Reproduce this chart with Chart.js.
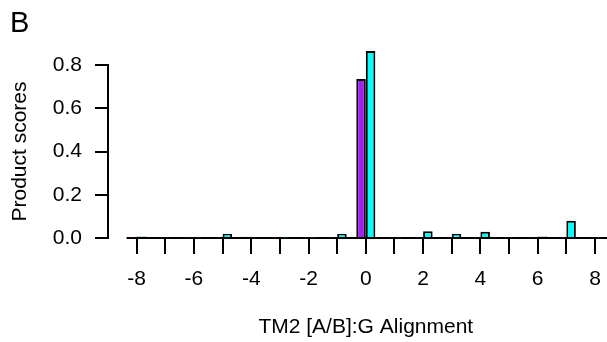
<!DOCTYPE html>
<html>
<head>
<meta charset="utf-8">
<script src="https://cdn.jsdelivr.net/npm/chart.js@4/dist/chart.umd.min.js"></script>
<style>
  body { margin: 0; background: #fff; }
  #wrap { position: relative; width: 607px; height: 342px; }
</style>
</head>
<body>
<div id="wrap"><canvas id="chart" width="607" height="342"></canvas></div>
<script>
// alignment offsets along TM2
const offsets = [-8, -7, -6, -5, -4, -3, -2, -1, 0, 1, 2, 3, 4, 5, 6, 7, 8];
// product scores per offset, one list per series
const scoresAG = [0.002, 0.003, 0.002, 0.002, 0.006, 0.002, 0.002, 0.002, 0.735, 0.002, 0.002, 0.002, 0.002, 0.002, 0.002, 0.002, 0.002];
const scoresBG = [0.007, 0.003, 0.002, 0.018, 0.005, 0.002, 0.002, 0.019, 0.865, 0.002, 0.031, 0.018, 0.029, 0.003, 0.007, 0.08, 0.002];
const yTicks = [0, 0.2, 0.4, 0.6, 0.8];
const xTitle = 'TM2 [A/B]:G Alignment';

const FONT = "'Liberation Sans', Arial, Helvetica, sans-serif";
Chart.defaults.color = '#000';
Chart.defaults.font.family = FONT;
Chart.defaults.font.size = 21;

const toPoints = vals => offsets.map((x, i) => ({ x: x, y: vals[i] }));

// panel letter, x title centred on 0, and the bar baseline (only under the bars)
const extras = {
  id: 'extras',
  beforeDatasetsDraw(chart) {
    const { ctx, scales: { x, y }, chartArea } = chart;
    ctx.save();
    ctx.strokeStyle = '#000';
    ctx.lineWidth = 2;
    ctx.beginPath();
    ctx.moveTo(x.getPixelForValue(-8.35), y.getPixelForValue(0));
    ctx.lineTo(chartArea.right, y.getPixelForValue(0));
    ctx.stroke();
    ctx.restore();
  },
  afterDraw(chart) {
    const { ctx, scales: { x } } = chart;
    ctx.save();
    ctx.fillStyle = '#000';
    ctx.font = '29px ' + FONT;
    ctx.textBaseline = 'alphabetic';
    ctx.fillText('B', 10, 32);
    ctx.font = '21px ' + FONT;
    ctx.textAlign = 'center';
    ctx.textBaseline = 'middle';
    ctx.fillText(xTitle, x.getPixelForValue(0), 327);
    ctx.restore();
  }
};

new Chart(document.getElementById('chart'), {
  type: 'bar',
  data: {
    datasets: [{
      label: 'TM2 A:G',
      data: toPoints(scoresAG),
      backgroundColor: '#a020f0',
      borderColor: '#000',
      borderWidth: 2,
      clip: false
    }, {
      label: 'TM2 B:G',
      data: toPoints(scoresBG),
      backgroundColor: '#00ffff',
      borderColor: '#000',
      borderWidth: 2,
      clip: false
    }]
  },
  options: {
    responsive: false,
    animation: false,
    layout: { padding: { top: 65, left: 0, right: 0, bottom: 0 } },
    datasets: { bar: { categoryPercentage: 2 / 3, barPercentage: 1 } },
    plugins: { legend: { display: false }, tooltip: { enabled: false } },
    scales: {
      x: {
        type: 'linear',
        offset: false,
        min: -9.0,
        max: 8.42,
        afterFit: s => {
          s.height = 104;
          // no extra room for the edge labels, the plot runs to the canvas edge
          s.paddingLeft = 0;
          s.paddingRight = 0;
        },
        afterBuildTicks: s => { s.ticks = offsets.map(v => ({ value: v })); },
        border: { display: false },
        grid: { offset: false, drawOnChartArea: false, drawTicks: true, tickLength: 16, color: '#000', lineWidth: 2 },
        ticks: {
          padding: 13,
          maxRotation: 0,
          autoSkip: false,
          callback: v => (v % 2 === 0 ? String(v) : '')
        }
      },
      y: {
        min: 0,
        max: 0.8,
        afterFit: s => { s.width = 108; },
        afterBuildTicks: s => { s.ticks = yTicks.map(v => ({ value: v })); },
        border: { display: true, color: '#000', width: 2 },
        grid: { drawOnChartArea: false, drawTicks: true, tickLength: 13, color: '#000', lineWidth: 2 },
        ticks: { padding: 13, callback: v => v.toFixed(1) },
        title: { display: true, text: 'Product scores', padding: { top: 8, bottom: 0 } }
      }
    }
  },
  plugins: [extras]
});
</script>
</body>
</html>
